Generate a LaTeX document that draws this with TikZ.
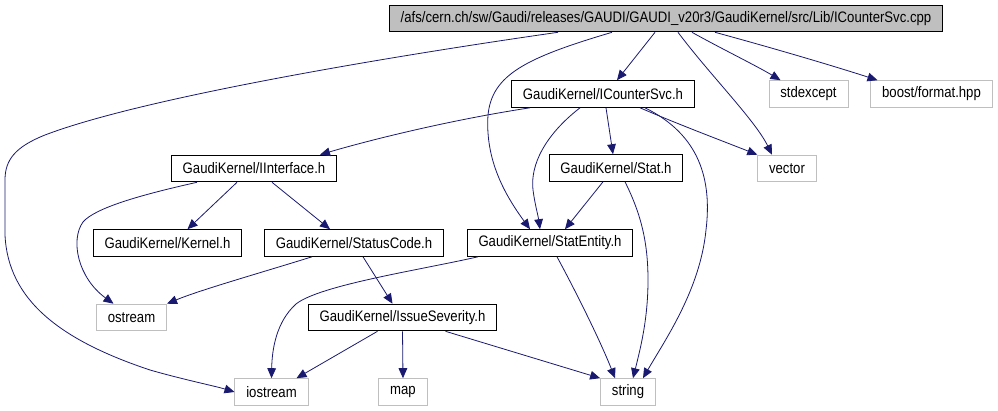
\documentclass[tikz,border=0pt]{standalone}
\usepackage{fontspec}
\setmainfont{Liberation Sans}[FakeStretch=0.865]
\usetikzlibrary{arrows.meta, calc}
\definecolor{edgeblue}{HTML}{191970}

\begin{document}
\begin{tikzpicture}[
    x=0.75pt, y=-0.75pt,
    hdr/.style={draw, line width=0.7pt, minimum height=20pt, inner xsep=8.5pt,
                inner ysep=0pt, font=\fontsize{11.4}{12}\selectfont},
    sys/.style={hdr, draw=gray!50},
    dep/.style={-{Triangle[length=7.5pt, width=6.5pt]}, edgeblue, line width=0.6pt}
  ]
  \useasboundingbox (0,0) rectangle (998,410);

  \node[hdr, fill=gray!50] (root) at (666,18.5)
    {/afs/cern.ch/sw/Gaudi/releases/GAUDI/GAUDI\_v20r3/GaudiKernel/src/Lib/ICounterSvc.cpp};
  \node[hdr] (icsvc) at (603,94) {GaudiKernel/ICounterSvc.h};
  \node[sys] (stdexc) at (808.5,94) {stdexcept};
  \node[sys] (boostfmt) at (931.5,94) {boost/format.hpp};
  \node[hdr] (iiface) at (254,168.5) {GaudiKernel/IInterface.h};
  \node[hdr] (stat) at (616,168) {GaudiKernel/Stat.h};
  \node[sys] (vector) at (787,168.5) {vector};
  \node[hdr] (kernel) at (167.5,243) {GaudiKernel/Kernel.h};
  \node[hdr] (statuscode) at (354,243) {GaudiKernel/StatusCode.h};
  \node[hdr] (statentity) at (550,243) {GaudiKernel/StatEntity.h};
  \node[sys] (ostream) at (131.5,317.5) {ostream};
  \node[hdr] (issue) at (402.5,317.5) {GaudiKernel/IssueSeverity.h};
  \node[sys] (iostream) at (271.5,392) {iostream};
  \node[sys] (map) at (403,392) {map};
  \node[sys] (string) at (628,392) {string};

  \draw[dep] ($(root.south)+(-108,0)$) .. controls (420,52) and (150,95) .. (45,135)
    .. controls (15,147) and (5,160) .. (5,180) -- (5,235)
    .. controls (8,300) and (60,340) .. (150,370)
    .. controls (185,380) and (215,386) .. (iostream.west);
  \draw[dep] ($(root.south)+(26,0)$) .. controls (720,48) and (755,65)
    .. ($(stdexc.north)+(-28,0)$);
  \draw[dep] ($(root.south)+(49,0)$) .. controls (780,50) and (840,68)
    .. ($(boostfmt.north)+(-54,0)$);
  \draw[dep] ($(root.south)+(12,0)$) .. controls (710,75) and (755,120)
    .. ($(vector.north)+(-15,0)$);
  \draw[dep] ($(root.south)+(-11,0)$) -- ($(icsvc.north)+(14,0)$);
  \draw[dep] ($(root.south)+(-54,0)$) .. controls (525,58) and (492,75) .. (488,115)
    .. controls (485,160) and (505,195) .. ($(statentity.north)+(-20,0)$);

  \draw[dep] ($(icsvc.south)+(-73,0)$) .. controls (450,120) and (370,140)
    .. ($(iiface.north)+(66,0)$);
  \draw[dep] ($(icsvc.south)+(-23,0)$) .. controls (545,135) and (530,165) .. (533,190)
    .. controls (535,205) and (538,215) .. ($(statentity.north)+(-10,0)$);
  \draw[dep] ($(icsvc.south)+(3,0)$) -- ($(stat.north)+(-3,0)$);
  \draw[dep] ($(icsvc.south)+(37,0)$) .. controls (680,125) and (720,140) .. (vector.north west);
  \draw[dep] ($(icsvc.south)+(42,0)$) .. controls (700,135) and (712,180) .. (706,230)
    .. controls (700,290) and (665,340) .. ($(string.north)+(15,0)$);

  \draw[dep] ($(iiface.south)+(-17,0)$) -- ($(kernel.north)+(20,0)$);
  \draw[dep] ($(iiface.south)+(18,0)$) -- ($(statuscode.north)+(-24,0)$);
  \draw[dep] ($(iiface.south)+(-57,0)$) .. controls (140,195) and (95,208) .. (83,222)
    .. controls (70,240) and (78,278) .. ($(ostream.north)+(-18,0)$);

  \draw[dep] ($(stat.south)+(-13,0)$) -- ($(statentity.north)+(15,0)$);
  \draw[dep] ($(stat.south)+(9,0)$) .. controls (640,212) and (648,240) .. (648,280)
    .. controls (648,320) and (640,350) .. ($(string.north)+(5,0)$);

  \draw[dep] ($(statentity.south)+(7,0)$) .. controls (575,290) and (600,340)
    .. ($(string.north)+(-13,0)$);
  \draw[dep] ($(statentity.south)+(-72,0)$) .. controls (420,270) and (320,285) .. (296,304)
    .. controls (276,322) and (272,350) .. (iostream.north);

  \draw[dep] ($(statuscode.south)+(-42,0)$) .. controls (260,273) and (200,290)
    .. (ostream.north east);
  \draw[dep] ($(statuscode.south)+(9,0)$) -- ($(issue.north)+(-10,0)$);

  \draw[dep] ($(issue.south)+(-25,0)$) -- ($(iostream.north)+(25,0)$);
  \draw[dep] (issue.south) -- (map.north);
  \draw[dep] ($(issue.south)+(43,0)$) -- (string.north west);
\end{tikzpicture}
\end{document}
